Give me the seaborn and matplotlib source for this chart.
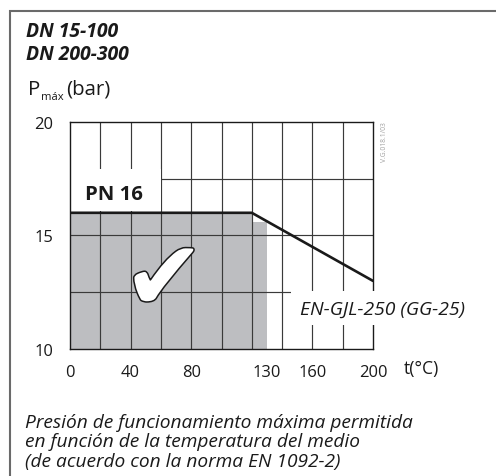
import matplotlib
matplotlib.use("Agg")
import matplotlib.pyplot as plt
import matplotlib.patheffects as pe
from matplotlib.patches import Rectangle
import seaborn as sns

# ---- data ----
temp = [0, 120, 200]            # °C
pmax = [16, 16, 13]             # bar
fill_temp = [0, 120, 120, 130]
fill_p = [16, 16, 15.6, 15.6]
x_tick_vals = [0, 40, 80, 130, 160, 200]
x_tick_labels = ["0", "40", "80", "130", "160", "200"]
y_tick_vals = [10, 15, 20]
y_tick_labels = ["10", "15", "20"]
x_grid = [20, 40, 60, 80, 100, 120, 140, 160, 180]
y_grid = [12.5, 15, 17.5]

sns.set_theme(style="white")
FONT = "Open Sans"
plt.rcParams["font.family"] = [FONT, "DejaVu Sans"]
INK = "#1a1a1a"

W, H = 496, 477
fig = plt.figure(figsize=(W / 100, H / 100), dpi=100)
fig.patch.set_facecolor("white")

def fx(px):
    return px / W

def fy(py):
    return 1 - py / H

ax = fig.add_axes([fx(70), fy(350), (373 - 70) / W, (350 - 123) / H])
ax.set_xlim(0, 200)
ax.set_ylim(10, 20)
ax.grid(False)

GRID = "#3a3a3a"
for xv in x_grid:
    ax.axvline(xv, color=GRID, linewidth=0.85, zorder=2)
for yv in y_grid:
    ax.axhline(yv, color=GRID, linewidth=0.85, zorder=2)

ax.set_xticks(x_tick_vals)
ax.set_xticklabels(x_tick_labels)
ax.set_yticks(y_tick_vals)
ax.set_yticklabels(y_tick_labels)
ax.tick_params(which="both", length=0)
ax.tick_params(axis="x", pad=11, labelsize=11, labelcolor=INK)
ax.tick_params(axis="y", pad=12, labelsize=11, labelcolor=INK)
for s in ax.spines.values():
    s.set_color(INK)
    s.set_linewidth(1.0)
    s.set_visible(True)
    s.set_zorder(4)

# gray admissible area
ax.fill_between(fill_temp, 10, fill_p, color="#bdbec1", linewidth=0, zorder=1.5)

# PN 16 white box
ax.add_patch(Rectangle((0, 16.06), 60, 1.85, facecolor="white", edgecolor="none", zorder=2.6))
pn = ax.text(29, 16.85, "PN 16", fontsize=14, fontweight="bold", ha="center", va="center",
             color=INK, zorder=3)

# pressure curve
sns.lineplot(x=temp, y=pmax, ax=ax, color=INK, linewidth=1.9, zorder=5)

# check mark
ax.text(62, 12.9, "\u2714", fontsize=70, ha="center", va="center", color="white",
        family="DejaVu Sans", zorder=3,
        path_effects=[pe.withStroke(linewidth=2.2, foreground=INK)])

# material label with white background
ax.add_patch(Rectangle((146, 11.05), 80, 1.5, facecolor="white", edgecolor="none",
                       zorder=5.5, clip_on=False))
mat = ax.text(151.5, 11.78, "EN-GJL-250 (GG-25)", fontsize=12, style="italic", ha="left",
              va="center", color=INK, zorder=6)

# version code
ver = fig.text(fx(385), fy(122), "V.G.018.1/03", rotation=90, fontsize=5.5, color="#a0a0a0",
               ha="center", va="top")

# titles
t1 = fig.text(fx(26), fy(32), "DN 15-100", fontsize=11.5, fontweight="bold", style="italic",
              ha="left", va="center", color=INK)
t2 = fig.text(fx(26), fy(55), "DN 200-300", fontsize=11.5, fontweight="bold", style="italic",
              ha="left", va="center", color=INK)

# y label pieces (positions finalised after measuring)
yp = fig.text(fx(28), fy(90), "P", fontsize=11, ha="left", va="center", color=INK)
ym = fig.text(fx(38.5), fy(97), "máx", fontsize=7, ha="left", va="center", color=INK)
yb = fig.text(fx(62), fy(90), "(bar)", fontsize=11, ha="left", va="center", color=INK)

# x label
xl = fig.text(fx(421.7), fy(369), "t(°C)", fontsize=11, ha="center", va="center", color=INK)

# caption
cap = ["Presión de funcionamiento máxima permitida",
       "en función de la temperatura del medio",
       "(de acuerdo con la norma EN 1092-2)"]
caps = []
for i, line in enumerate(cap):
    caps.append(fig.text(fx(25), fy(423 + 19.5 * i), line, fontsize=11, style="italic",
                         ha="left", va="center", color=INK))

# outer frame
fig.add_artist(Rectangle((fx(10), fy(480)), (W + 5 - 10) / W, (480 - 12) / H,
                         transform=fig.transFigure, facecolor="none",
                         edgecolor="#6a6a6a", linewidth=1.5))

# ---- fit text sizes to the reference widths (px) ----
fig.canvas.draw()
r = fig.canvas.get_renderer()

def width(t, vertical=False):
    bb = t.get_window_extent(r)
    return bb.height if vertical else bb.width

def fit(texts, sample, target, vertical=False):
    k = target / width(sample, vertical)
    for t in texts:
        t.set_fontsize(t.get_fontsize() * k)

fit([t1, t2], t1, 93)
fit([pn], pn, 58)
fit([mat], mat, 165)
fit([ver], ver, 40, vertical=True)
fit([xl], xl, 35)
fit([yp, yb], yb, 44)
# caption: sample substring width
tmp = fig.text(0, 0, "Presión de funcionamient", fontsize=11, style="italic")
k = 215 / width(tmp)
tmp.remove()
for c in caps:
    c.set_fontsize(11 * k)
# tick labels
lab200 = [t for t in ax.get_xticklabels() if t.get_text() == "200"][0]
k = 28 / width(lab200)
tick_size = 11 * k
ax.tick_params(axis="both", labelsize=tick_size)

# subscript placed right after P, "(bar)" after the subscript
ym.set_fontsize(yp.get_fontsize() * 0.55)
fig.canvas.draw()
p_right = yp.get_window_extent(r).x1
ym.set_x((p_right + 0.5) / W)
fig.canvas.draw()
m_right = ym.get_window_extent(r).x1
yb.set_x((m_right + 3.0) / W)

fig.savefig("out.png", dpi=100)
